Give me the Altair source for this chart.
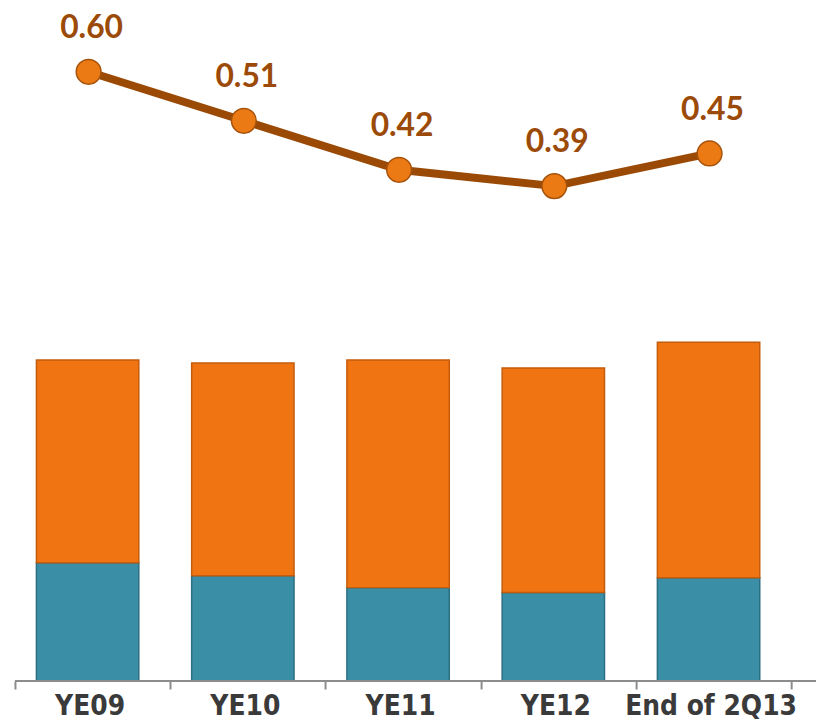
import altair as alt
import pandas as pd

categories = ["YE09", "YE10", "YE11", "YE12", "End of 2Q13"]
lower_vals = [119, 106, 94, 89, 104]
upper_vals = [204, 214, 229, 226, 237]
ratio_vals = [0.60, 0.51, 0.42, 0.39, 0.45]

TEAL = "#3a8ea6"
ORANGE = "#f07412"
LINE = "#9b4a05"
LABEL = "#9c4a08"

bar_rows = []
for c, lo, up in zip(categories, lower_vals, upper_vals):
    bar_rows.append({"cat": c, "series": "Lower", "value": lo, "ord": 0})
    bar_rows.append({"cat": c, "series": "Upper", "value": up, "ord": 1})
df_bar = pd.DataFrame(bar_rows)
df_line = pd.DataFrame({"cat": categories, "ratio": ratio_vals})

x_enc = alt.X(
    "cat:N",
    sort=categories,
    scale=alt.Scale(paddingInner=0, paddingOuter=0),
    axis=alt.Axis(
        title=None,
        labelAngle=0,
        tickBand="extent",
        domain=False,
        ticks=True,
        tickColor="#8c8c8c",
        tickSize=8,
        tickWidth=2,
        grid=False,
        labelFont="DejaVu Sans Condensed",
        labelFontWeight="bold",
        labelFontSize=28,
        labelColor="#3a3a3a",
        labelPadding=4,
        labelLimit=400,
        labelOffset=-3,
    ),
)

bars = alt.Chart(df_bar).mark_bar(size=103, xOffset=-5, strokeWidth=1.5).encode(
    x=x_enc,
    y=alt.Y("value:Q", stack="zero", scale=alt.Scale(domain=[0, 675], nice=False), axis=None),
    color=alt.Color("series:N", scale=alt.Scale(domain=["Lower", "Upper"], range=[TEAL, ORANGE]), legend=None),
    stroke=alt.Stroke("series:N", scale=alt.Scale(domain=["Lower", "Upper"], range=["#2b6f83", "#c45c0c"]), legend=None),
    order=alt.Order("ord:Q"),
)

y_line = alt.Y("ratio:Q", scale=alt.Scale(domain=[-0.5194, 0.7132], nice=False, zero=False), axis=None)

line = alt.Chart(df_line).mark_line(color=LINE, strokeWidth=8, xOffset=-4).encode(
    x=alt.X("cat:N", sort=categories), y=y_line
)
points = alt.Chart(df_line).mark_point(
    shape="circle", size=620, filled=True, fill="#ec7a14", stroke="#a5520b", strokeWidth=1.5, opacity=1, xOffset=-4
).encode(x=alt.X("cat:N", sort=categories), y=y_line)
labels = alt.Chart(df_line).mark_text(
    dy=-44, xOffset=-1, font="Lato", fontWeight="bold", fontSize=32, color=LABEL, baseline="middle"
).encode(x=alt.X("cat:N", sort=categories), y=y_line, text=alt.Text("ratio:Q", format=".2f"))

axis_line = alt.Chart(pd.DataFrame({"a": [0]})).mark_rule(color="#8c8c8c", strokeWidth=2).encode(
    x=alt.value(0), x2=alt.value(806), y=alt.value(675)
)

chart = (
    alt.layer(bars, axis_line, line, points, labels)
    .resolve_scale(y="independent")
    .properties(width=781, height=675, padding={"left": 6, "top": 0, "right": 0, "bottom": 0})
    .configure_view(stroke=None)
)

chart.save("out.html", embed_options={"renderer": "svg", "actions": False})
